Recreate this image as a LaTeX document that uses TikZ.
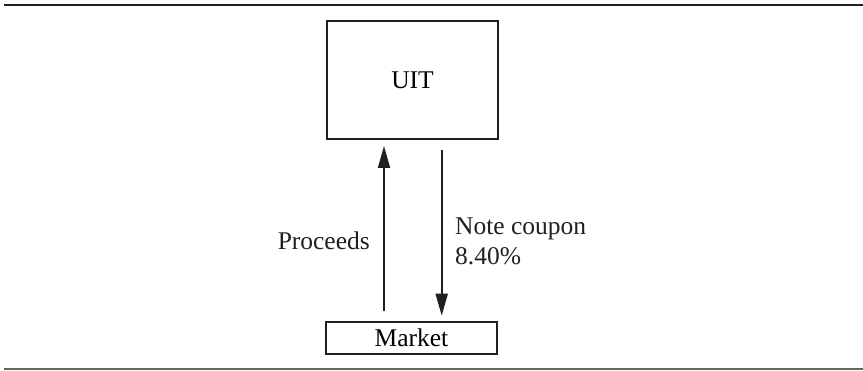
\documentclass[tikz,border=0pt]{standalone}
\usepackage{fontspec}
\setmainfont{Liberation Serif}
\usetikzlibrary{arrows.meta}
\definecolor{ink}{HTML}{231F20}
\tikzset{
  box/.style={draw=ink, line width=2pt, inner sep=0pt, font=\fontsize{25.5}{30}\selectfont},
  flow/.style={draw=ink, line width=2pt, -{Triangle[width=12pt,length=22pt]}},
  lbl/.style={inner sep=0pt, text=ink, font=\fontsize{25.5}{30}\selectfont, align=left},
}
\begin{document}
\begin{tikzpicture}[x=1pt,y=1pt]
\useasboundingbox (0,0) rectangle (863,370);
\draw[ink, line width=2.3pt] (4,365) -- (863,365);
\draw[black!60, line width=1.2pt] (4,1) -- (863,1);
\node[box, minimum width=171pt, minimum height=118pt] (uit) at (412.5,290) {UIT};
\node[box, minimum width=171pt, minimum height=32pt] (market) at (411.5,32) {Market};
\coordinate (upS) at ([xshift=-27.5pt,yshift=10.3pt]market.north);
\coordinate (upE) at ([xshift=-28.5pt,yshift=-6pt]uit.south);
\coordinate (dnS) at ([xshift=29.2pt,yshift=-10pt]uit.south);
\coordinate (dnE) at ([xshift=30.2pt,yshift=5.3pt]market.north);
\draw[flow] (upS) -- (upE);
\draw[flow] (dnS) -- (dnE);
\node[lbl, anchor=base east] (proc) at (370,120) {Proceeds};
\node[lbl, anchor=base west] (note) at (455,105) {Note coupon\\8.40\%};
\end{tikzpicture}
\end{document}
